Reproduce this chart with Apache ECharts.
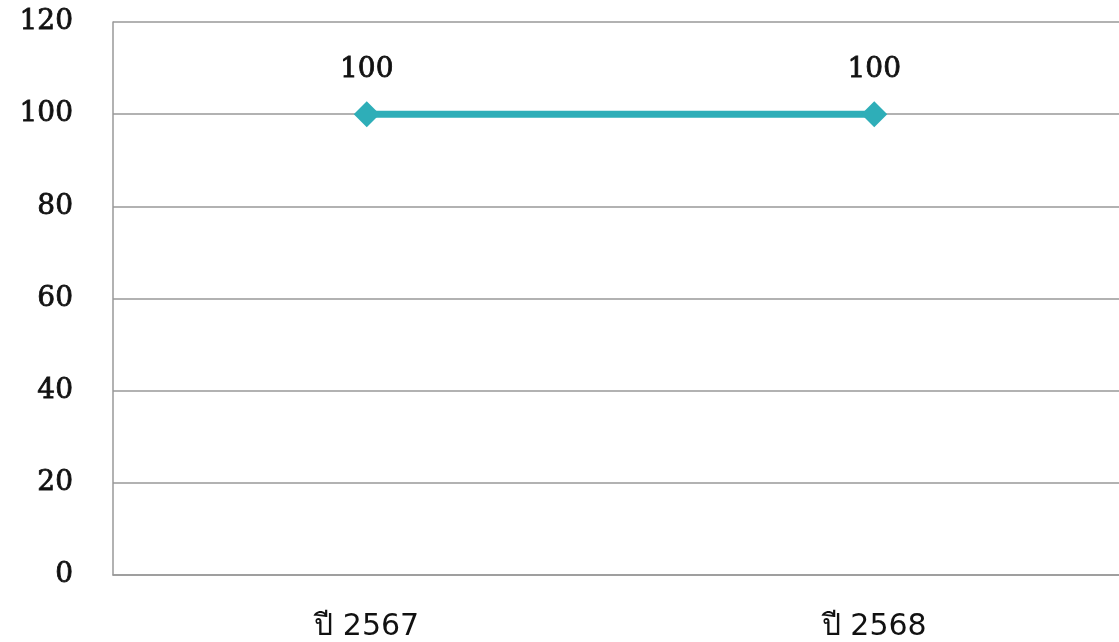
<!DOCTYPE html>
<html>
<head>
<meta charset="utf-8">
<script src="https://cdn.jsdelivr.net/npm/echarts@6/dist/echarts.min.js"></script>
<style>
  html, body { margin: 0; padding: 0; background: #fff; overflow: hidden; }
  /* plot area runs slightly past the right edge of the window */
  #chart { width: 1128px; height: 642px; }
</style>
</head>
<body>
<div id="chart"></div>
<script>
const categories = ['ปี 2567', 'ปี 2568'];
const values = [100, 100];
const yTicks = [0, 20, 40, 60, 80, 100, 120];

const serif = '"DejaVu Serif", serif';
const sans = '"DejaVu Sans", "Noto Sans", sans-serif';
// a thin outline in the text colour gives the digits a medium weight
const numText = { color: '#111', fontFamily: serif, fontSize: 28, textBorderColor: '#111', textBorderWidth: 0.8 };

const chart = echarts.init(document.getElementById('chart'));
chart.setOption({
  animation: false,
  grid: { left: 113, right: 0, top: 22, bottom: 66, containLabel: false },
  xAxis: {
    type: 'category',
    data: categories,
    boundaryGap: true,
    axisLine: { show: true, lineStyle: { color: '#999', width: 1.5 } },
    axisTick: { show: false },
    axisLabel: { color: '#111', fontFamily: sans, fontSize: 30, margin: 37 }
  },
  yAxis: {
    type: 'value',
    min: yTicks[0],
    max: yTicks[yTicks.length - 1],
    interval: 20,
    axisLine: { show: true, lineStyle: { color: '#999', width: 1.5 } },
    axisTick: { show: false },
    splitLine: { lineStyle: { color: '#999', width: 1.5 } },
    axisLabel: Object.assign({ margin: 40 }, numText)
  },
  series: [{
    type: 'line',
    data: values,
    symbol: 'diamond',
    symbolSize: 26,
    lineStyle: { color: '#2EAEB8', width: 7 },
    itemStyle: { color: '#2EAEB8' },
    label: Object.assign({ show: true, position: 'top', distance: 17 }, numText)
  }]
});
</script>
</body>
</html>
